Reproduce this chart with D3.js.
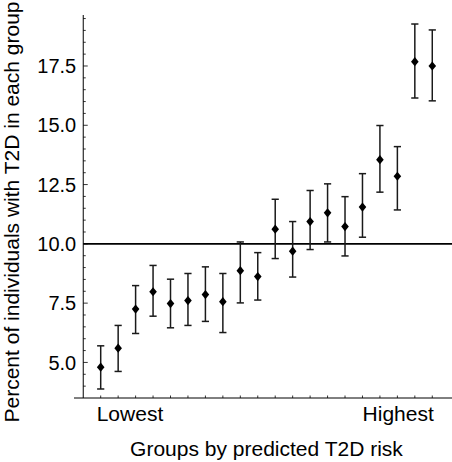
<!DOCTYPE html>
<html>
<head>
<meta charset="utf-8">
<script src="https://cdn.jsdelivr.net/npm/d3@7"></script>
<style>
  html, body { margin: 0; padding: 0; background: #fff; }
  svg { display: block; font-family: "Liberation Sans", Arial, Helvetica, sans-serif; }
</style>
</head>
<body>
<svg id="chart" width="452" height="462"></svg>
<script>
// ---- data ----
const groups = d3.range(1, 21);
const percent = [4.80, 5.60, 7.25, 7.98, 7.48, 7.61, 7.86, 7.56, 8.87, 8.62,
                 10.62, 9.69, 10.94, 11.31, 10.73, 11.55, 13.55, 12.85, 17.68, 17.50];
const upper   = [5.70, 6.56, 8.24, 9.09, 8.51, 8.75, 9.03, 8.75, 10.08, 9.63,
                 11.88, 10.94, 12.25, 12.53, 11.99, 12.96, 14.99, 14.10, 19.27, 19.02];
const lower   = [3.88, 4.62, 6.22, 6.95, 6.46, 6.56, 6.73, 6.26, 7.51, 7.63,
                 9.38, 8.60, 9.76, 10.08, 9.49, 10.28, 12.18, 11.43, 16.15, 16.03];
const yTickValues = [5.0, 7.5, 10.0, 12.5, 15.0, 17.5];
const yMinorTicks = d3.range(8, 40).map(d => d / 2);
const xEndLabels = ["Lowest", "Highest"];
const baseline = 10.0;
const xTitle = "Groups by predicted T2D risk";
const yTitle = "Percent of individuals with T2D in each group";

// ---- scales ----
const svg = d3.select("#chart");
const x = d3.scaleLinear().domain([-0.53, 21.13]).range([74, 452]);
const y = d3.scaleLinear().domain([3.5, 19.65]).range([398, 15]);
const x0 = x(0);

// ---- axes ----
// y axis line
svg.append("line").attr("x1", x0).attr("x2", x0).attr("y1", y(19.65)).attr("y2", y(3.5))
  .attr("stroke", "#000").attr("stroke-width", 1);
// x axis line
svg.append("line").attr("x1", x(-0.53)).attr("x2", x(21.13)).attr("y1", y(3.5)).attr("y2", y(3.5))
  .attr("stroke", "#000").attr("stroke-width", 1);

// y minor ticks
svg.append("g").selectAll("line").data(yMinorTicks).join("line")
  .attr("x1", x0).attr("x2", d => x0 + (yTickValues.includes(d) ? 4.5 : 2.5))
  .attr("y1", d => y(d)).attr("y2", d => y(d))
  .attr("stroke", "#000").attr("stroke-width", 0.8);

// y tick labels
svg.append("g").selectAll("text").data(yTickValues).join("text")
  .attr("x", x0 - 7).attr("y", d => y(d)).attr("dy", "0.36em")
  .attr("text-anchor", "end").attr("font-size", 20).attr("fill", "#000")
  .text(d => d.toFixed(1));

// x ticks
svg.append("g").selectAll("line").data(groups).join("line")
  .attr("x1", d => x(d)).attr("x2", d => x(d))
  .attr("y1", y(3.5)).attr("y2", y(3.5) - 2.5)
  .attr("stroke", "#000").attr("stroke-width", 0.8);

// x end labels
svg.append("text").attr("x", x(1) - 4).attr("y", 421)
  .attr("text-anchor", "start").attr("font-size", 21).text(xEndLabels[0]);
svg.append("text").attr("x", x(20) + 1.5).attr("y", 421)
  .attr("text-anchor", "end").attr("font-size", 21).text(xEndLabels[1]);

// axis titles
svg.append("text").attr("x", (x(1) + x(20)) / 2).attr("y", 456)
  .attr("text-anchor", "middle").attr("font-size", 21).text(xTitle);
svg.append("text").attr("transform", `translate(18.5,${212}) rotate(-90)`)
  .attr("text-anchor", "middle").attr("font-size", 21).text(yTitle);

// baseline at 10
svg.append("line").attr("x1", x0).attr("x2", 452).attr("y1", y(baseline)).attr("y2", y(baseline))
  .attr("stroke", "#000").attr("stroke-width", 1.8);

// ---- error bars ----
const data = groups.map((g, i) => ({ g, v: percent[i], hi: upper[i], lo: lower[i] }));
const eb = svg.append("g").attr("stroke", "#1a1a1a").attr("stroke-width", 1.5);
eb.selectAll("line.v").data(data).join("line").attr("class", "v")
  .attr("x1", d => x(d.g)).attr("x2", d => x(d.g))
  .attr("y1", d => y(d.lo)).attr("y2", d => y(d.hi));
eb.selectAll("line.t").data(data).join("line").attr("class", "t")
  .attr("x1", d => x(d.g) - 3.6).attr("x2", d => x(d.g) + 3.6)
  .attr("y1", d => y(d.hi)).attr("y2", d => y(d.hi));
eb.selectAll("line.b").data(data).join("line").attr("class", "b")
  .attr("x1", d => x(d.g) - 3.6).attr("x2", d => x(d.g) + 3.6)
  .attr("y1", d => y(d.lo)).attr("y2", d => y(d.lo));

// ---- diamond markers ----
svg.append("g").selectAll("path").data(data).join("path")
  .attr("d", d => {
    const cx = x(d.g), cy = y(d.v);
    return `M${cx},${cy - 4.6}L${cx + 3.8},${cy}L${cx},${cy + 4.6}L${cx - 3.8},${cy}Z`;
  })
  .attr("fill", "#000");
</script>
</body>
</html>
